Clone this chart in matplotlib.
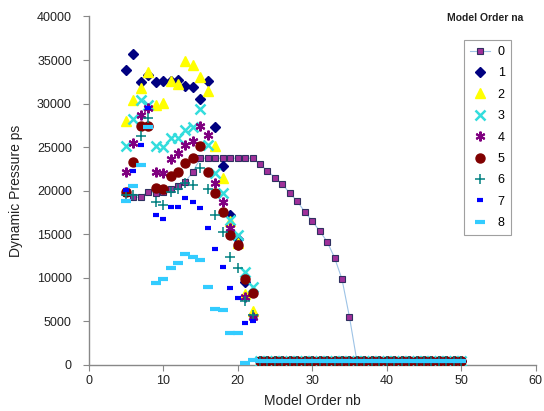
import numpy as np
import matplotlib
matplotlib.use("Agg")
import matplotlib.pyplot as plt

plt.rcParams['font.family'] = ['Liberation Sans', 'DejaVu Sans']

# model order nb for the scattered part, and for the flat tail
nb = list(range(5, 23))
nb_tail = list(range(23, 51))

# series 0 runs on to nb = 50
nb0 = list(range(5, 51))
ps0 = [19700, 19250, 19250, 19900, 19700, 19900, 20170, 20550, 21050, 22150,
       23730, 23730, 23730, 23730, 23730, 23730, 23730, 23730,
       23040, 22270, 21500, 20750, 19700, 18800, 17570, 16530, 15380, 14160,
       12320, 9840, 5510,
       450, 400, 400, 400, 400, 400, 400, 400, 400, 400, 400, 400, 400, 400, 400]

ps1 = [33870, 35700, 32460, 33300, 32460, 32640, 32600, 32700, 32030, 31880,
       30500, 32640, 27360, 22880, 17190, 14500, 9500, 5700]
ps2 = [27980, 30420, 31840, 33600, 29810, 30110, 32640, 32230, 34900, 34480,
       33030, 31490, 25140, 21440, 16500, 14000, 8200, 6200]
ps3 = [25180, 28210, 30420, 29850, 25180, 25060, 26030, 26030, 26980, 27360,
       29360, 25260, 22010, 19710, 16650, 14900, 10710, 8990]
ps4 = [22120, 25520, 28700, 29470, 22190, 22080, 23620, 24370, 25260, 25750,
       27470, 26410, 20930, 18680, 15760, 13780, 7840, 5550]
ps5 = [19830, 23340, 27470, 27470, 20290, 20170, 21730, 22120, 23160, 23730,
       25180, 22190, 19710, 17600, 14930, 13780, 9840, 8230]
ps6 = [19520, 19500, 26290, 28320, 18750, 18370, 19900, 20170, 20860, 20670,
       22580, 20170, 17220, 15300, 12360, 11100, 7380, 5700]
ps7 = [20090, 22270, 25260, 29470, 17220, 16730, 18100, 18100, 19140, 18750,
       18060, 15760, 13320, 11220, 8870, 7660, 4790, 5090]
ps8 = [18830, 20550, 23000, 27360, 9450, 9840, 11100, 11680, 12740, 12430,
       12050, 8990, 6450, 6270, 3640, 3640, 270, 570]

# near-zero values every higher order shares from nb = 23 on
ps_tail = [400, 400, 400, 400, 400, 400, 400, 400, 400, 400, 400, 400, 400, 400,
           400, 400, 400, 400, 400, 400, 400, 400, 400, 400, 400, 400, 400, 400]

labels = ['0', '1', '2', '3', '4', '5', '6', '7', '8']

fig = plt.figure(figsize=(5.44, 4.11), dpi=100)
ax = fig.add_axes([0.1627, 0.112, 0.8223, 0.848])

ax.plot(nb0, ps0, color='#9dc3e6', lw=0.8, marker='s', ms=4.5,
        mfc='#a0309a', mec='#303060', mew=0.8, label=labels[0], zorder=2)

styles = [
    dict(marker='D', ms=5.5, color='#000080', mec='#000080'),
    dict(marker='^', ms=6.5, color='#ffff00', mec='#ffff00'),
    dict(marker='x', ms=6.5, color='#33dddd', mew=1.8),
    dict(marker=(6, 2, 0), ms=7, color='#800080', mew=1.5),
    dict(marker='o', ms=6.5, color='#800000', mec='#800000'),
    dict(marker='+', ms=7, color='#008080', mew=1.1),
    dict(marker='_', ms=4.5, color='#0000ff', mew=3),
    dict(marker='_', ms=7.5, color='#33ccff', mew=3),
]
series = [ps1, ps2, ps3, ps4, ps5, ps6, ps7, ps8]
for i, (ps, st) in enumerate(zip(series, styles)):
    ax.plot(nb + nb_tail, ps + ps_tail, ls='none', label=labels[i + 1],
            zorder=3, **st)

ax.set_xlim(0, 60)
ax.set_ylim(0, 40000)
ax.set_xticks(np.arange(0, 61, 10))
ax.set_yticks(np.arange(0, 40001, 5000))
for s in ['top', 'right']:
    ax.spines[s].set_visible(False)
for s in ['left', 'bottom']:
    ax.spines[s].set_color('#888888')
    ax.spines[s].set_linewidth(1.0)
ax.tick_params(axis='both', labelsize=9, color='#888888', length=4, width=0.8,
               direction='out', labelcolor='#222222')
ax.tick_params(axis='y', pad=8)

ax.set_ylabel('Dynamic Pressure ps', fontsize=10, color='#222222', labelpad=10)
ax.set_xlabel('Model Order nb', fontsize=10, color='#222222', labelpad=5)

leg = ax.legend(loc='upper left', bbox_to_anchor=(0.853, 0.903),
                bbox_transform=fig.transFigure, fontsize=9, frameon=True,
                fancybox=False, edgecolor='#888888', labelspacing=0.75,
                handlelength=1.6, handletextpad=0.6, borderpad=0.5,
                borderaxespad=0)
leg.get_frame().set_linewidth(0.8)

fig.text(0.892, 0.957, 'Model Order na', fontsize=7.5, fontweight='bold',
         ha='center', va='center', color='#222222')

fig.savefig('out.png', dpi=100)
